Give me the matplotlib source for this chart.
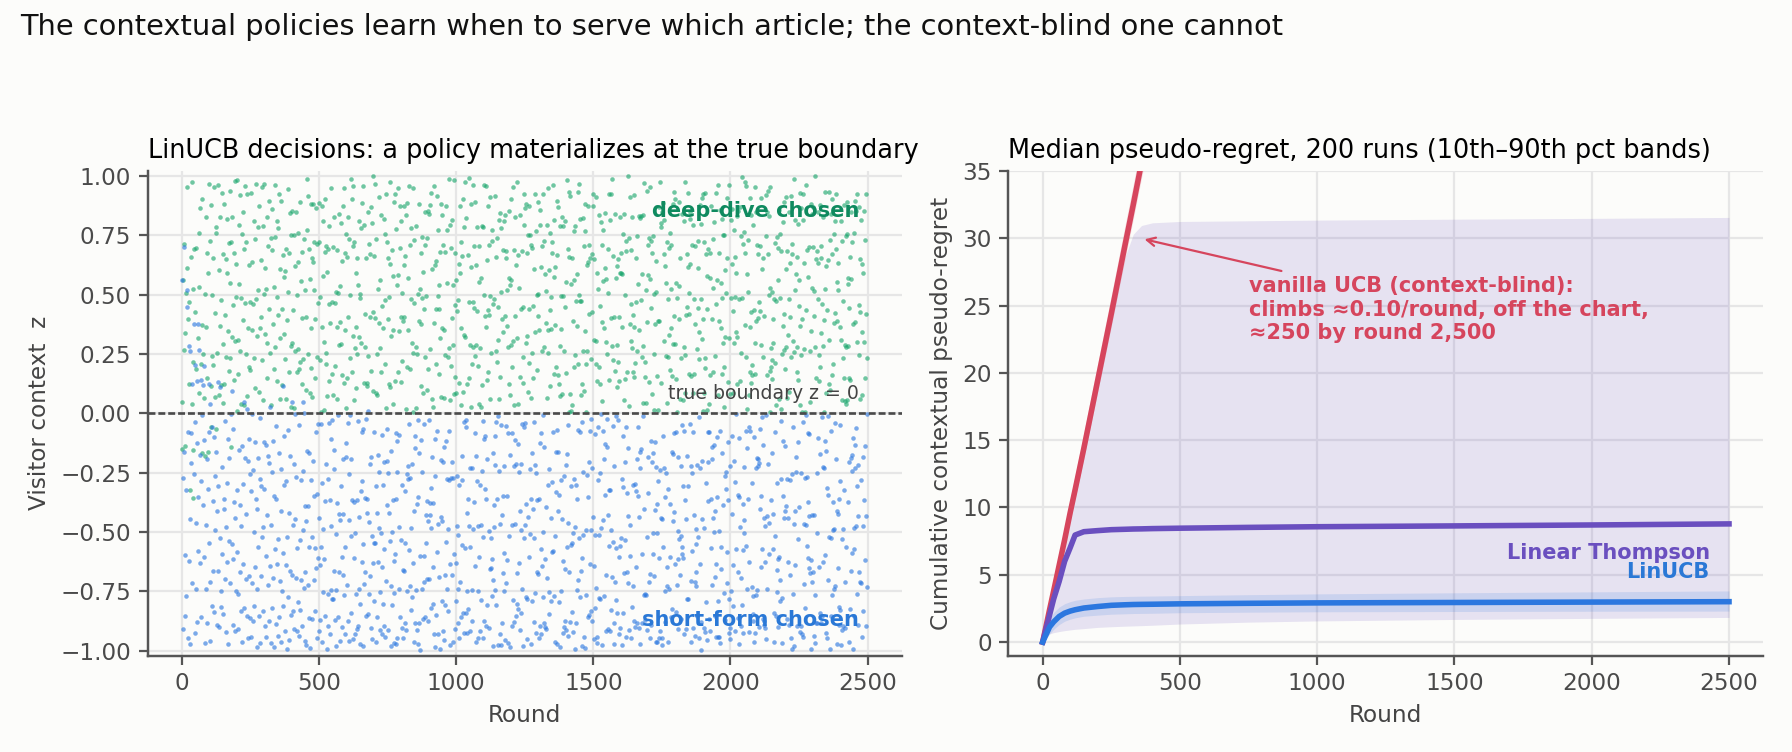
import matplotlib
matplotlib.use("Agg")
import matplotlib.pyplot as plt
import numpy as np

# ---------------- left panel: LinUCB decision per round ----------------
rounds = np.arange(2500)

# visitor context z for each round, written as 3-digit codes (z = (code + 0.5) / 500 - 1)
z_codes = """
523 118 907 364 781 045 632 290 856 417 073 948 201 669 338 752 114 589 976 243 805 461 027 698 350
189 734 562 901 276 648 013 457 829 395 670 142 986 518 233 761 094 607 372 845 159 924 481 036 713
268 592 847 130 715 436 061 983 324 657 209 878 543 097 766 412 185 931 604 357 820 071 496 239 685
951 307 624 078 443 869 196 532 750 015 387 912 264 681 129 574 836 403 058 795 341 617 982 226 460
702 145 389 863 021 556 937 284 619 470 093 748 315 827 168 601 449 082 976 253 534 710 367 891 132
418 879 053 627 294 981 346 710 167 538 802 049 475 913 236 684 125 559 092 738 387 964 203 646 521
077 834 299 562 941 318 706 150 483 825 261 617 039 794 352 908 187 446 673 014 589 231 857 405 968
615 142 773 038 497 860 225 659 912 381 054 728 466 193 837 570 312 989 041 652 279 813 126 745 504
337 990 208 654 119 583 046 771 422 896 165 630 307 958 084 519 743 262 877 431 018 695 350 924 183
846 263 517 089 732 405 978 151 624 287 859 073 536 214 961 398 680 027 445 812 156 597 733 069 372
591 028 964 335 675 142 818 497 063 729 381 905 250 616 094 867 439 176 552 983 320 741 008 663 297
129 758 406 891 217 544 073 936 362 680 015 489 823 157 702 346 975 238 611 084 527 894 261 439 750
983 341 667 052 805 198 432 761 029 574 913 286 648 137 409 852 063 720 395 946 178 503 627 015 868
264 517 090 843 376 929 153 688 441 007 766 325 592 871 214 638 980 056 473 319 745 182 904 567 031
706 889 235 416 962 071 530 147 803 658 294 019 947 383 560 126 719 471 832 205 093 667 348 786 452
042 613 798 180 529 357 846 004 695 238 971 464 113 755 022 586 837 290 168 922 409 641 075 513 875
397 158 926 647 083 716 264 874 511 392 045 809 276 630 498 152 923 365 748 041 587 216 879 103 634
818 475 031 592 944 233 607 086 359 777 148 562 838 051 701 379 614 095 254 866 132 499 021 758 305
165 702 548 273 011 886 421 992 137 625 304 957 069 416 845 217 542 783 006 679 941 360 594 238 827
534 066 817 940 398 149 759 326 861 084 573 215 698 932 173 460 027 855 329 617 195 731 476 860 042
278 943 180 611 745 064 503 219 476 935 018 681 352 124 789 904 256 649 507 193 838 072 315 951 604
851 392 627 004 536 797 118 845 052 361 729 480 893 567 034 316 690 128 974 445 263 582 734 109 486
109 537 849 422 168 913 382 064 731 598 246 127 754 009 682 529 843 311 070 752 496 919 165 643 287
692 021 275 768 901 346 645 197 580 821 049 935 403 288 159 973 117 564 836 218 675 034 408 877 510
436 828 574 139 063 702 479 913 021 274 866 372 615 749 496 078 404 992 241 587 951 317 852 025 663
977 194 312 861 527 248 034 636 795 119 553 681 045 826 317 625 769 052 483 904 130 660 281 742 098
013 750 648 335 890 461 187 357 942 466 009 224 977 563 140 895 322 708 166 639 487 826 073 319 556
564 289 923 076 404 619 856 271 118 703 392 834 156 407 933 048 589 241 901 025 713 184 546 998 227
830 461 105 699 226 982 347 543 018 867 625 071 538 290 761 412 186 954 375 689 258 043 637 124 781
247 916 586 453 034 175 725 098 679 348 214 908 397 052 876 603 029 737 511 147 962 399 860 467 306
698 043 374 827 745 561 289 813 230 554 987 136 662 421 009 249 843 095 674 788 316 520 189 015 944
122 568 961 204 318 888 013 457 769 026 441 375 791 974 587 130 672 453 260 936 071 847 703 566 232
905 348 047 752 609 027 694 169 936 812 168 703 057 335 226 831 508 916 043 371 597 126 942 388 675
361 785 211 978 476 136 853 592 364 085 739 259 890 113 648 392 974 184 627 503 865 019 294 731 451
058 427 639 128 893 510 309 044 625 751 013 486 324 694 939 059 415 762 198 002 443 688 556 837 129
742 870 376 543 067 796 145 718 477 198 924 617 071 853 286 746 227 548 869 314 150 925 273 062 593
486 151 920 285 634 311 938 257 089 963 342 529 803 408 176 513 098 310 035 689 978 367 811 446 007
819 603 074 719 957 208 462 885 746 034 267 770 155 582 720 004 839 657 402 941 281 534 105 679 917
273 396 854 041 429 675 023 531 158 622 840 096 936 229 441 885 362 129 774 256 617 084 462 993 358
637 012 528 896 182 847 599 364 907 397 159 701 364 643 017 769 541 990 203 575 046 837 728 185 542
104 781 263 367 715 058 738 130 244 813 564 348 027 795 936 145 678 071 516 860 409 222 359 831 078
951 545 892 664 036 481 216 987 659 471 079 911 486 126 562 289 036 833 319 087 733 573 995 263 644
384 217 041 513 807 939 604 062 384 128 734 255 640 981 313 852 721 457 619 945 179 410 643 017 812
714 892 356 126 598 262 027 775 519 851 197 636 042 348 784 513 106 264 893 378 558 026 891 484 239
062 446 748 981 341 704 451 318 052 682 977 403 823 569 095 716 935 587 047 706 251 854 172 746 955
529 173 627 237 886 115 863 193 730 415 010 148 306 741 260 957 390 128 452 829 630 095 482 319 607
868 724 011 493 654 378 529 907 266 034 576 921 754 012 889 475 057 698 286 164 843 671 325 905 126
205 389 916 705 022 827 142 472 841 758 325 683 190 457 638 016 784 242 925 561 007 412 769 537 781
643 951 264 052 458 596 975 651 107 389 844 061 517 913 266 705 443 812 073 392 987 163 658 099 434
087 518 832 376 763 184 043 294 576 917 253 718 392 080 476 841 129 563 618 009 724 896 236 471 962
932 265 479 941 113 647 308 836 025 662 109 874 544 282 720 196 605 936 383 874 246 532 014 854 318
416 847 105 627 574 299 726 061 482 236 803 390 962 671 121 374 883 037 749 165 591 317 945 162 705
751 026 674 318 895 051 437 928 213 807 457 035 630 179 851 962 250 495 112 638 863 058 428 792 049
193 689 302 757 046 532 895 152 674 349 974 627 123 802 383 076 716 879 557 280 105 744 677 208 836
860 354 981 460 209 786 114 583 907 018 685 242 807 418 596 333 465 014 832 947 418 581 293 934 561
327 102 536 893 642 008 677 358 746 125 541 913 276 037 746 894 188 630 367 049 723 905 171 063 390
584 775 043 217 990 413 269 845 031 474 828 166 503 965 061 541 957 223 771 505 346 082 826 516 227
040 247 694 781 361 884 597 004 623 893 260 735 059 348 684 127 792 318 604 149 965 465 237 748 983
736 908 459 112 538 167 736 482 195 562 009 376 910 631 244 852 029 546 941 884 006 672 503 117 604
253 631 811 370 071 935 324 817 396 075 709 854 462 182 827 487 613 084 253 713 385 834 062 935 281
961 178 024 654 824 455 089 243 652 954 132 603 028 794 568 015 359 762 470 110 596 243 917 374 726
109 562 497 903 257 692 853 526 012 777 463 275 886 403 114 679 921 435 806 327 783 158 649 041 488
625 429 845 286 752 045 570 961 338 221 906 041 339 701 962 253 085 642 154 993 229 611 473 830 059
388 013 703 145 588 918 216 107 784 493 643 810 554 079 607 485 824 197 703 035 568 047 794 220 913
794 837 236 681 012 361 793 452 877 079 345 528 164 918 232 748 396 572 028 842 471 863 332 586 165
142 284 998 427 869 514 044 687 264 954 198 729 026 652 843 091 636 913 349 586 135 706 959 062 681
576 606 351 049 734 176 827 335 058 630 872 403 771 471 326 914 048 281 675 417 911 384 013 737 425
915 059 618 793 204 641 493 916 521 117 297 985 118 607 064 576 760 521 117 967 043 239 692 407 853
332 791 145 566 868 027 976 162 783 441 721 054 862 396 541 836 203 415 873 248 624 750 506 156 296
688 438 821 017 386 755 309 578 019 248 506 694 357 933 195 027 694 987 042 380 891 564 279 899 012
026 923 276 942 452 218 651 834 384 906 061 323 809 125 774 619 373 136 859 522 176 018 741 341 618
847 130 664 308 591 880 197 071 762 679 853 419 578 087 413 272 940 646 291 705 457 966 183 645 950
459 571 082 773 139 502 743 408 251 045 192 767 234 944 698 158 529 827 067 389 615 242 920 474 217
203 347 527 194 640 035 463 904 622 316 986 543 046 707 276 834 108 409 724 963 108 807 347 583 752
709 814 908 476 923 389 019 578 147 853 374 210 895 461 048 543 739 286 583 144 852 031 688 224 165
136 256 391 635 073 721 862 238 806 492 671 027 614 183 937 385 061 897 002 739 277 655 399 952 504
962 698 047 861 542 257 615 039 963 594 103 835 352 719 506 022 788 315 461 845 396 518 067 461 836
581 042 784 318 216 936 403 697 137 429 867 278 763 586 249 902 433 155 621 293 072 964 183 729 028
324 779 450 029 981 104 538 251 836 028 694 463 015 927 172 680 219 774 908 583 416 742 875 306 647
875 513 122 597 367 659 064 801 376 752 340 952 207 143 827 317 566 438 037 658 981 108 540 025 389
048 126 906 743 452 813 287 930 543 181 715 094 648 886 398 744 042 829 355 497 213 671 794 561 915
661 925 328 165 069 447 741 324 014 934 261 568 873 051 626 153 997 096 742 211 855 309 036 881 247
275 387 685 986 837 221 978 462 618 509 793 129 426 754 318 865 470 538 186 039 681 586 462 953 712
917 564 134 352 602 579 115 063 896 076 449 716 019 582 975 037 647 384 923 694 117 405 854 128 389
403 835 701 049 733 394 852 715 297 467 952 326 643 175 803 491 213 617 066 432 826 054 278 705 063
186 048 263 872 958 025 496 283 924 581 130 834 392 968 268 749 914 203 588 975 502 763 316 637 597
754 612 571 416 287 698 213 648 078 739 017 605 857 241 459 516 072 736 871 124 352 169 781 192 848
049 197 928 530 105 743 877 149 509 362 841 483 016 624 110 683 325 902 442 279 708 632 945 431 294
592 954 305 638 804 362 067 532 842 187 665 278 923 739 544 053 816 158 703 360 957 027 617 856 004
834 372 652 118 471 009 628 993 267 906 294 758 181 407 792 375 640 829 051 586 438 897 234 570 726
302 781 039 964 683 517 931 374 051 623 502 035 697 962 028 907 481 267 634 816 141 503 089 364 981
717 264 496 221 365 843 195 458 786 312 849 173 456 284 630 164 523 941 190 003 673 286 764 918 145
165 850 933 757 031 286 704 016 638 998 117 574 825 058 374 841 247 059 815 739 924 447 176 623 568
938 413 078 597 826 669 059 851 492 073 729 386 641 912 187 502 696 385 966 442 201 761 543 037 809
421 027 716 342 494 148 823 327 965 561 238 654 003 548 865 237 073 918 462 117 579 835 951 254 312
603 689 256 877 129 904 479 711 136 845 403 961 294 776 014 693 816 174 287 760 054 318 092 681 475
086 357 905 012 653 235 528 044 863 256 615 052 736 337 573 938 145 526 047 643 872 219 639 518 876
527 944 641 785 312 771 018 574 397 721 087 829 569 168 923 406 782 859 379 205 412 687 447 003 259
879 213 072 433 947 384 692 263 925 469 961 347 118 650 284 053 391 623 728 934 166 529 825 712 145
358 906 143 671 029 814 537 262 795 408 083 649 926 317 574 191 865 430 052 708 283 961 615 134 497
""".split()
z = np.array([(int(c) + 0.5) / 500 - 1 for c in z_codes])

# deep-dive (1) is chosen when z > 0, except for early exploration rounds below
arm = (z > 0).astype(int)
override_round = [1, 2, 7, 11, 17, 19, 24, 28, 30, 35, 39, 41, 45, 46, 54, 57, 63, 70, 73, 78,
                  80, 85, 96, 100, 102, 107, 124, 132, 137, 178, 184, 226, 238, 321, 367, 400, 442, 679]
override_z = [0.56, -0.152, 0.70, -0.138, 0.52, 0.447, 0.284, 0.264, -0.321, 0.125, -0.156, -0.356,
              0.375, 0.203, 0.136, 0.375, 0.268, 0.139, -0.166, 0.118, 0.197, -0.18, -0.162, 0.122,
              0.038, -0.056, -0.068, 0.13, 0.11, -0.141, 0.094, 0.048, 0.017, 0.028, 0.113, 0.048,
              0.048, 0.01]
override_arm = [0, 1, 0, 1, 0, 0, 0, 0, 1, 0, 1, 1, 0, 0, 0, 0, 0, 0, 1, 0,
                0, 1, 1, 0, 0, 1, 1, 0, 0, 1, 0, 0, 0, 0, 0, 0, 0, 0]
z[override_round] = override_z
arm[override_round] = override_arm

# ---------------- right panel: pseudo-regret median and 10th/90th pct ----------------
t = [0, 25, 40, 60, 80, 100, 118, 150, 200, 250, 300, 330, 360, 400, 500, 750, 1000, 1500, 2000, 2500]

ucb_med = [0, 2.4, 3.8, 5.7, 7.6, 9.6, 11.3, 14.4, 19.4, 24.4, 29.5, 32.5, 35.6, 39.6, 49.6, 74.8, 99.8, 149.8, 199.8, 249.8]
ucb_lo = [0, 2.0, 3.3, 5.1, 6.9, 8.8, 10.45, 13.45, 18.35, 23.25, 28.25, 31.2, 34.25, 38.2, 48.0, 72.9, 97.6, 147.1, 196.7, 246.3]
ucb_hi = [0, 2.8, 4.3, 6.3, 8.3, 10.4, 12.15, 15.35, 20.45, 25.55, 30.75, 33.8, 36.95, 41.0, 51.2, 76.7, 102.0, 152.5, 202.9, 253.3]

ts_med = [0, 2.0, 3.2, 4.5, 6.0, 7.0, 7.95, 8.2, 8.28, 8.35, 8.38, 8.4, 8.41, 8.43, 8.46, 8.52, 8.57, 8.63, 8.7, 8.78]
ts_lo = [0, 0.6, 0.7, 0.78, 0.85, 0.9, 0.95, 1.0, 1.09, 1.14, 1.18, 1.2, 1.22, 1.25, 1.34, 1.48, 1.57, 1.68, 1.76, 1.83]
ts_hi = [0, 2.4, 3.9, 5.8, 7.7, 9.6, 11.4, 14.5, 19.2, 24.0, 28.6, 30.3, 30.95, 31.15, 31.25, 31.3, 31.35, 31.42, 31.48, 31.55]

lin_med = [0, 1.12, 1.5, 1.9, 2.15, 2.3, 2.4, 2.53, 2.64, 2.73, 2.77, 2.79, 2.8, 2.81, 2.84, 2.88, 2.91, 2.94, 2.97, 3.0]
lin_lo = [0, 0.6, 0.95, 1.3, 1.55, 1.7, 1.8, 1.92, 2.0, 2.07, 2.1, 2.12, 2.13, 2.14, 2.18, 2.22, 2.25, 2.27, 2.29, 2.3]
lin_hi = [0, 1.7, 2.2, 2.6, 2.85, 3.0, 3.1, 3.2, 3.3, 3.36, 3.39, 3.4, 3.41, 3.42, 3.45, 3.52, 3.58, 3.66, 3.73, 3.8]

# colours
BG = "#fcfcfa"
GREEN = "#18a56b"
GREEN_TXT = "#0f8a5f"
BLUE = "#2b77df"
RED = "#d6455d"
PURPLE = "#6a4fbf"

plt.rcParams["font.family"] = ["DejaVu Sans"]

fig = plt.figure(figsize=(11.2, 4.7), dpi=160, facecolor=BG)
ax1 = fig.add_axes([0.0824, 0.1283, 0.4207, 0.6443])
ax2 = fig.add_axes([0.5627, 0.1283, 0.4213, 0.6443])

for ax in (ax1, ax2):
    ax.set_facecolor(BG)
    ax.grid(True, color="#e6e6e6", lw=1.0)
    ax.set_axisbelow(True)
    for s in ("top", "right"):
        ax.spines[s].set_visible(False)
    for s in ("left", "bottom"):
        ax.spines[s].set_color("#555555")
        ax.spines[s].set_linewidth(1.1)
    ax.tick_params(colors="#555555", labelcolor="#4a4a4a", labelsize=10.4, width=1.0, length=4)

# left: decisions
deep = arm == 1
ax1.scatter(rounds[deep], z[deep], s=4.2, color=GREEN, alpha=0.62, linewidths=0)
ax1.scatter(rounds[~deep], z[~deep], s=4.2, color=BLUE, alpha=0.62, linewidths=0)
ax1.axhline(0, color="#4a4a4a", lw=1.2, dashes=(2.6, 1.1))
ax1.set_ylim(-1.02, 1.02)
ax1.set_xticks([0, 500, 1000, 1500, 2000, 2500])
ax1.set_xlabel("Round", fontsize=10.4, color="#444444")
ax1.set_ylabel("Visitor context  z", fontsize=10.4, color="#444444")
ax1.set_title("LinUCB decisions: a policy materializes at the true boundary", loc="left", fontsize=11.5)
ax1.text(2470, 0.85, "deep-dive chosen", ha="right", va="center", color=GREEN_TXT,
         fontweight="bold", fontsize=9.4)
ax1.text(2470, -0.87, "short-form chosen", ha="right", va="center", color="#2a78d6",
         fontweight="bold", fontsize=9.4)
ax1.text(2470, 0.085, "true boundary z = 0", ha="right", va="center", color="#444444", fontsize=8.5)

# right: regret
ax2.fill_between(t, ucb_lo, ucb_hi, color=RED, alpha=0.17, lw=0, zorder=1)
ax2.fill_between(t, ts_lo, ts_hi, color=PURPLE, alpha=0.15, lw=0, zorder=1)
ax2.fill_between(t, lin_lo, lin_hi, color=BLUE, alpha=0.15, lw=0, zorder=1)
ax2.plot(t, ucb_med, color=RED, lw=2.5, zorder=3)
ax2.plot(t, ts_med, color=PURPLE, lw=2.5, zorder=3)
ax2.plot(t, lin_med, color=BLUE, lw=2.5, zorder=3)
ax2.set_ylim(-1, 35)
ax2.set_xlabel("Round", fontsize=10.4, color="#444444")
ax2.set_ylabel("Cumulative contextual pseudo-regret", fontsize=10.4, color="#444444")
ax2.set_title("Median pseudo-regret, 200 runs (10th\u201390th pct bands)", loc="left", fontsize=11.5)
ax2.text(2430, 6.63, "Linear Thompson", ha="right", va="center", color=PURPLE,
         fontweight="bold", fontsize=9.4)
ax2.text(2430, 5.17, "LinUCB", ha="right", va="center", color="#2a78d6",
         fontweight="bold", fontsize=9.4)
ax2.annotate("vanilla UCB (context-blind):\nclimbs \u22480.10/round, off the chart,\n\u2248250 by round 2,500",
             xy=(355, 30), xytext=(750, 24.7), ha="left", va="center", color=RED,
             fontweight="bold", fontsize=9.4,
             arrowprops=dict(arrowstyle="->", color=RED, lw=1.0))

fig.text(20 / 1792, 1 - 27 / 752,
         "The contextual policies learn when to serve which article; the context-blind one cannot",
         ha="left", va="center", fontsize=13.0, color="#111111")

fig.savefig("out.png", dpi=160, facecolor=BG)
